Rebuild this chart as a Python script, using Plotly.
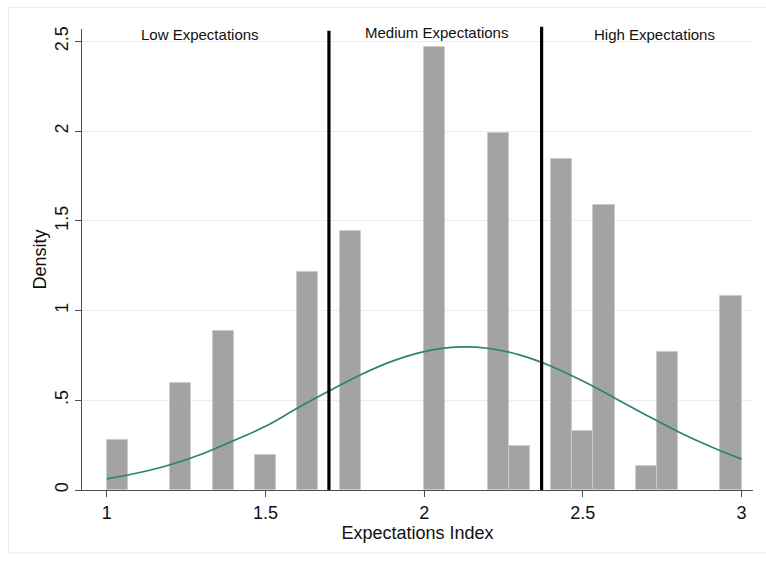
import plotly.graph_objects as go

# Histogram of the expectations index (30 bins of width 1/15 between 1 and 3);
# only non-empty bins are listed.
bin_width = 1 / 15
bin_start = [1.0, 1.2, 1.3333, 1.4667, 1.6, 1.7333, 2.0, 2.2, 2.2667,
             2.4, 2.4667, 2.5333, 2.6667, 2.7333, 2.9333]
density = [0.279, 0.595, 0.885, 0.195, 1.214, 1.441, 2.469, 1.987, 0.245,
           1.842, 0.329, 1.586, 0.136, 0.768, 1.082]

# Normal density overlay, sampled along the index
curve_x = [1.0, 1.1, 1.2, 1.3, 1.4, 1.5, 1.6, 1.7, 1.8, 1.9, 2.0,
           2.1, 2.2, 2.3, 2.4, 2.5, 2.6, 2.7, 2.8, 2.9, 3.0]
curve_y = [0.062, 0.096, 0.141, 0.201, 0.275, 0.355, 0.455, 0.551, 0.642, 0.718, 0.771,
           0.796, 0.790, 0.753, 0.690, 0.607, 0.513, 0.417, 0.325, 0.244, 0.172]

# Group cut-offs and group labels
cutoffs = [1.7, 2.37]
group_labels = ["Low Expectations", "Medium Expectations", "High Expectations"]
group_label_x = [1.295, 2.04, 2.725]
group_label_y = [2.538, 2.55, 2.54]

x_ticks = [1, 1.5, 2, 2.5, 3]
x_tick_text = ["1", "1.5", "2", "2.5", "3"]
y_ticks = [0, 0.5, 1, 1.5, 2, 2.5]
y_tick_text = ["0", ".5", "1", "1.5", "2", "2.5"]

FONT = "Liberation Sans, Arial, sans-serif"

fig = go.Figure()

fig.add_trace(go.Bar(
    x=[s + bin_width / 2 for s in bin_start],
    y=density,
    width=[bin_width] * len(bin_start),
    marker=dict(color="#a3a3a3", line=dict(color="#cbcbcb", width=1)),
    hoverinfo="x+y",
    showlegend=False,
))

fig.add_trace(go.Scatter(
    x=curve_x, y=curve_y, mode="lines",
    line=dict(color="#2f8077", width=1.7, shape="spline"),
    showlegend=False,
))

# Vertical cut-off lines (slightly different tops)
line_tops = [0.9963, 1.005]
for cx, top in zip(cutoffs, line_tops):
    fig.add_shape(type="line", xref="x", yref="paper",
                  x0=cx, x1=cx, y0=0, y1=top,
                  line=dict(color="black", width=3.2))

for txt, lx, ly in zip(group_labels, group_label_x, group_label_y):
    fig.add_annotation(x=lx, y=ly, xref="x", yref="y", text=txt,
                       showarrow=False, font=dict(family=FONT, size=15, color="#111"))

# Outer graph-region frame
fig.add_shape(type="rect", xref="paper", yref="paper",
              x0=-0.1098, x1=1.03, y0=-0.1367, y1=1.0462,
              line=dict(color="#e3e9eb", width=1), layer="below")

fig.update_layout(
    width=766, height=561,
    margin=dict(l=82, r=13, t=29, b=71),
    paper_bgcolor="white", plot_bgcolor="white",
    bargap=0,
    font=dict(family=FONT, color="#111"),
    xaxis=dict(
        range=[0.922, 3.036],
        tickvals=x_ticks, ticktext=x_tick_text,
        ticks="outside", ticklen=6, tickcolor="#4d4d4d",
        tickfont=dict(size=18, family=FONT),
        showline=True, linecolor="#4d4d4d", linewidth=1,
        showgrid=False, zeroline=False,
        title=dict(text="Expectations Index", font=dict(size=18, family=FONT), standoff=2),
    ),
    yaxis=dict(
        range=[0, 2.569],
        tickvals=y_ticks, ticktext=y_tick_text,
        ticks="outside", ticklen=6, tickcolor="#4d4d4d",
        tickangle=-90,
        tickfont=dict(size=18, family=FONT),
        showline=True, linecolor="#4d4d4d", linewidth=1,
        showgrid=True, gridcolor="#e6eef0", gridwidth=1,
        zeroline=False,
        title=dict(text="Density", font=dict(size=18, family=FONT), standoff=0),
    ),
)

fig.write_html("out.html")
